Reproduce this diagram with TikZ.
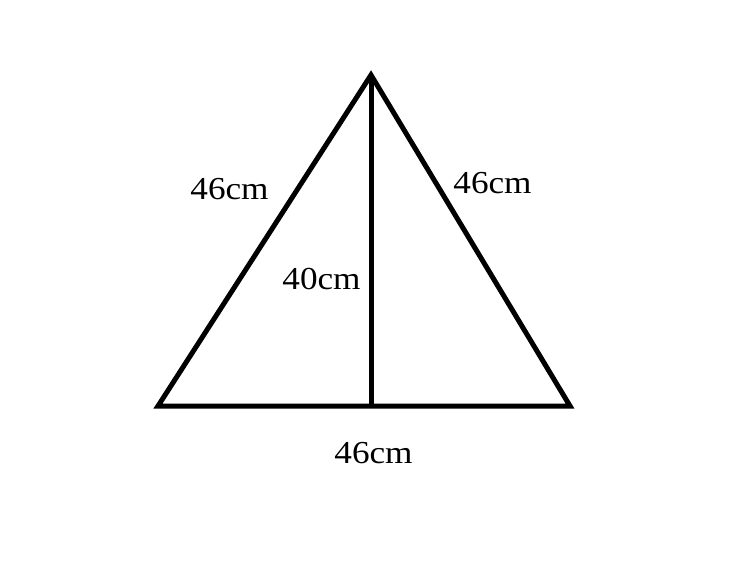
\documentclass[tikz,border=0pt]{standalone}
\usepackage{fontspec}
\newfontfamily\labfont[FakeStretch=1.1]{Liberation Serif}
\begin{document}
\begin{tikzpicture}[x=1pt,y=-1pt,
  edge/.style={line width=5pt},
  lab/.style={font=\labfont\fontsize{32}{36}\selectfont, inner sep=0pt}]
\useasboundingbox (0,0) rectangle (730,581);
\coordinate (A) at (371,75);
\coordinate (B) at (158,406);
\coordinate (C) at (570,406);
\coordinate (D) at (371,406);
\draw[edge] (A) -- (B) -- (C) -- cycle;
\draw[edge] (A) -- (D);
\node[lab] (l1) at (229.5,189) {46cm};
\node[lab] (l2) at (492.5,183) {46cm};
\node[lab] (l3) at (321.5,279) {40cm};
\node[lab] (l4) at (373.5,453) {46cm};
\end{tikzpicture}
\end{document}
